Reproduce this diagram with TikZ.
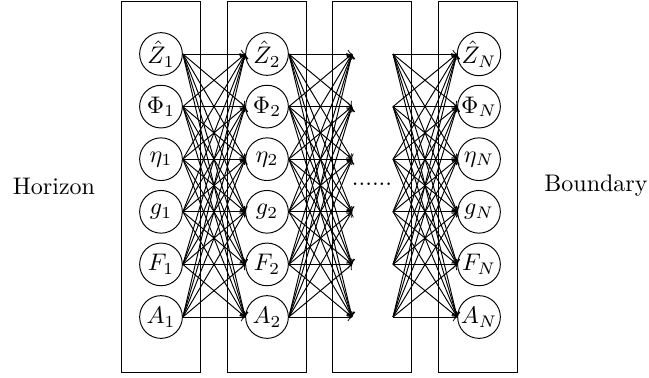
\documentclass[tikz,border=0pt]{standalone}
\begin{document}
\begin{tikzpicture}[x=0.41667pt,y=-0.41667pt,
  var/.style={circle,draw,minimum size=17.8pt,inner sep=0pt},
  colbox/.style={draw,rectangle,minimum width=79*0.41667pt,minimum height=371*0.41667pt,inner sep=0pt},
  conn/.style={->},
  side/.style={inner sep=0pt}]
\useasboundingbox (0,0) rectangle (649,377);
\node[colbox] (b1) at (160.5,186.5) {};
\node[colbox] (b2) at (266.5,186.5) {};
\node[colbox] (b3) at (372,186.5) {};
\node[colbox] (b4) at (478,186.5) {};
\foreach \n/\s [count=\i] in {Z/\hat{Z},P/\Phi,e/\eta,g/g,F/F,A/A} {
  \pgfmathsetmacro\yy{54+(\i-1)*52.6}
  \node[var] (\n1) at (161,\yy) {$\s_1$};
  \node[var] (\n2) at (267,\yy) {$\s_2$};
  \node[var] (\n N) at (479,\yy) {$\s_N$};
  \coordinate (\n a) at (352,\yy);
  \coordinate (\n b) at (393,\yy);
}
\foreach \a in {Z,P,e,g,F,A} {
  \foreach \b in {Z,P,e,g,F,A} {
    \draw[conn] (\a1.east) -- (\b2.west);
    \draw[conn] (\a2.east) -- (\b a);
    \draw[conn] (\a b) -- (\b N.west);
  }
}
\node[side] (dots) at (372,184) {......};
\node[side] (hor) at (54,186) {Horizon};
\node[side] (bnd) at (596,186) {Boundary};
\end{tikzpicture}
\end{document}
